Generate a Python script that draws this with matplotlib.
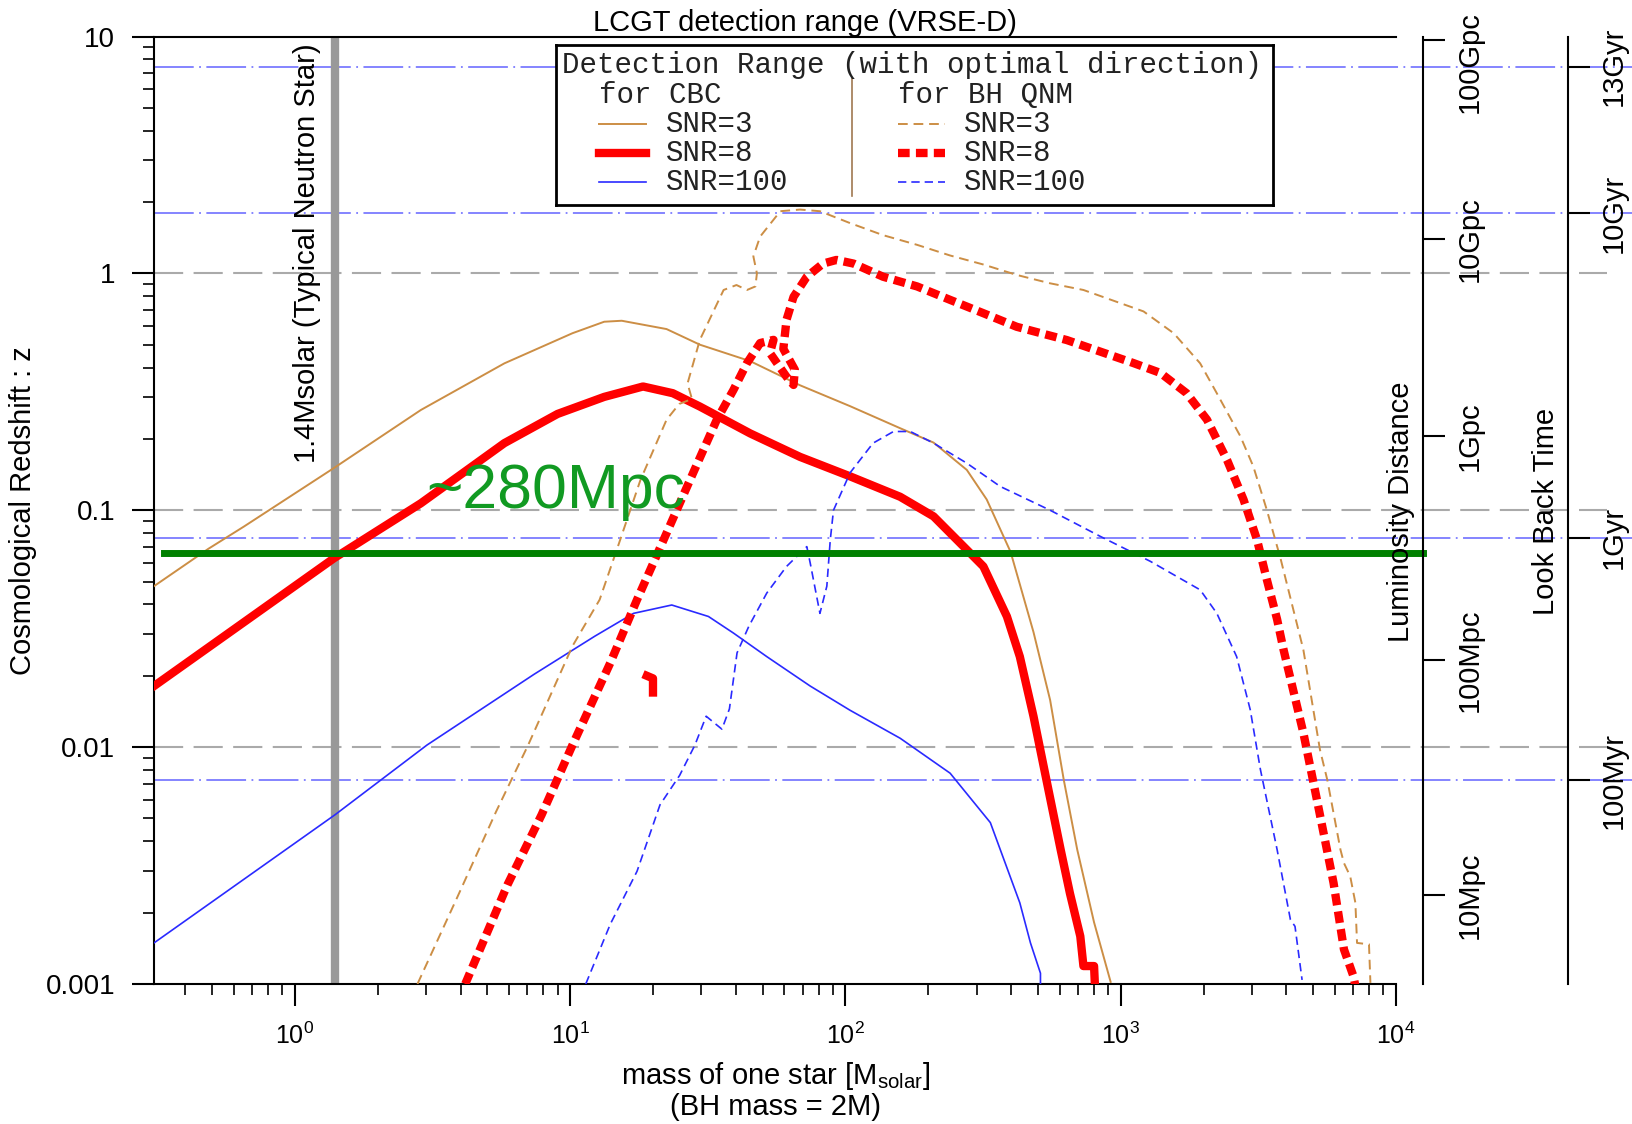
"""LCGT detection range (VRSE-D) plot."""

import matplotlib
matplotlib.use("Agg")
import matplotlib.pyplot as plt
import matplotlib.ticker as ticker
import matplotlib.transforms as transforms

plt.rcParams["font.family"] = "Liberation Sans"
plt.rcParams["mathtext.fontset"] = "custom"
plt.rcParams["mathtext.rm"] = "Liberation Sans"
plt.rcParams["mathtext.it"] = "Liberation Sans:italic"
plt.rcParams["mathtext.default"] = "regular"

# CBC, SNR=3
cbc3_mass = [0.308, 0.485, 0.653, 1.39, 2.87, 5.77, 10.2, 13.3, 15.4, 22.4,
             29.6, 45.1, 68.4, 104, 158, 209, 276, 326, 398, 482, 554, 621,
             695, 800, 919]
cbc3_z = [0.0478, 0.0687, 0.0853, 0.151, 0.265, 0.417, 0.559, 0.625, 0.631,
          0.582, 0.500, 0.426, 0.337, 0.275, 0.222, 0.193, 0.148, 0.111,
          0.0667, 0.0306, 0.0158, 0.00727, 0.00369, 0.00182, 0.00102]

# CBC, SNR=8
cbc8_mass = [0.308, 1.39, 2.87, 5.77, 9.0, 13.3, 18.4, 23.6, 29.6, 45.1, 68.4,
             104, 158, 209, 276, 317, 386, 430, 482, 540, 605, 654, 713, 732,
             800, 806]
cbc8_z = [0.0181, 0.0628, 0.107, 0.192, 0.255, 0.301, 0.333, 0.312, 0.274,
          0.211, 0.168, 0.139, 0.114, 0.0942, 0.0681, 0.0579, 0.0356, 0.0241,
          0.0135, 0.00705, 0.00369, 0.00241, 0.00159, 0.00119, 0.00119,
          0.00098]

# CBC, SNR=100
cbc100_mass = [0.308, 1.40, 3.02, 7.40, 12.3, 17.0, 23.4, 31.8, 39.2, 51.8,
               74.5, 104, 158, 240, 336, 430, 470, 511, 511]
cbc100_z = [0.00149, 0.00518, 0.0102, 0.0203, 0.0294, 0.0367, 0.0398, 0.0356,
            0.0303, 0.0241, 0.0181, 0.0143, 0.0109, 0.00776, 0.0048, 0.0022,
            0.00149, 0.00111, 0.00099]

# BH QNM, SNR=3
qnm3_mass = [2.79, 3.89, 5.38, 7.04, 10.2, 12.8, 15.2, 18.0, 22.4, 24.9, 27.7,
             26.7, 29.6, 36.1, 40.2, 43.9, 47.1, 47.7, 46.3, 49.0, 58.0, 68.4,
             80.8, 104, 137, 182, 240, 317, 419, 554, 732, 1210, 1557, 1943,
             2233, 2721, 3031, 3396, 3802, 4605, 5292, 5627, 6281, 6467, 6815,
             7117, 7216, 7974, 8070]
qnm3_z = [0.001, 0.00232, 0.00533, 0.0102, 0.0267, 0.0419, 0.075, 0.134, 0.241,
          0.281, 0.295, 0.343, 0.524, 0.851, 0.893, 0.851, 0.881, 1.0, 1.18,
          1.43, 1.83, 1.86, 1.83, 1.63, 1.45, 1.32, 1.19, 1.09, 0.985, 0.908,
          0.851, 0.691, 0.559, 0.417, 0.312, 0.205, 0.153, 0.100, 0.0628,
          0.0258, 0.00975, 0.00727, 0.00369, 0.00324, 0.00285, 0.0022, 0.00149,
          0.00147, 0.00101]

# BH QNM, SNR=8
qnm8_mass = [4.16, 5.92, 7.88, 10.2, 14.0, 17.5, 22.4, 28.0, 34.1, 39.2, 43.9,
             49.0, 54.8, 53.2, 61.1, 64.8, 65.5, 59.5, 61.1, 64.8, 72.4, 82.9,
             92.8, 107, 137, 182, 240, 317, 419, 637, 1113, 1393, 1735, 2058,
             2433, 2792, 3127, 3396, 3698, 3902, 4605, 5158, 5929, 6467, 6998,
             7117]
qnm8_z = [0.001, 0.00262, 0.00518, 0.0102, 0.0227, 0.0419, 0.080, 0.144, 0.241,
          0.322, 0.418, 0.508, 0.524, 0.461, 0.366, 0.338, 0.392, 0.480, 0.637,
          0.796, 0.968, 1.10, 1.14, 1.10, 0.968, 0.881, 0.773, 0.679, 0.595,
          0.523, 0.418, 0.380, 0.312, 0.241, 0.163, 0.111, 0.075, 0.0508,
          0.0346, 0.0258, 0.0115, 0.006, 0.00267, 0.0014, 0.00108, 0.00098]
qnm8_spot_mass = [19.0, 20.0, 20.0]
qnm8_spot_z = [0.0200, 0.0195, 0.0170]

# BH QNM, SNR=100
qnm100_mass = [11.4, 14.0, 17.5, 21.2, 25.0, 28.4, 31.2, 35.6, 37.9, 40.4, 44.6,
               51.8, 61.1, 72.4, 74.5, 80.8, 85.6, 88.1, 90.5, 104, 126, 149.5,
               172, 209, 276, 365, 554, 842, 1279, 1944, 2234, 2636, 2953, 3216,
               3698, 4133, 4295, 4557]
qnm100_z = [0.001, 0.00179, 0.00299, 0.0057, 0.0076, 0.0102, 0.0135, 0.0119,
            0.0145, 0.025, 0.0324, 0.0447, 0.0579, 0.0702, 0.0598, 0.0367,
            0.0478, 0.075, 0.100, 0.144, 0.192, 0.215, 0.215, 0.192, 0.158,
            0.126, 0.100, 0.0776, 0.0609, 0.0461, 0.0367, 0.0241, 0.0144,
            0.00804, 0.00369, 0.00187, 0.00175, 0.00104]

neutron_star_mass = 1.4
range_280mpc_z = 0.066

# secondary scales (redshift of each tick)
lum_dist_z = [9.7, 1.40, 0.205, 0.0233, 0.00237]
lum_dist_labels = ["100Gpc", "10Gpc", "1Gpc", "100Mpc", "10Mpc"]
lookback_z = [7.45, 1.79, 0.0765, 0.00725]
lookback_labels = ["13Gyr", "10Gyr", "1Gyr", "100Myr"]
grid_z = [1, 0.1, 0.01]

TAN = "#CC8E45"
RED = "#FF0000"
BLUE = "#2A2AFF"

fig = plt.figure(figsize=(16.33, 11.24), dpi=100)
ax = fig.add_axes([0.0943, 0.1246, 0.7606, 0.8429])
ax.set_xscale("log")
ax.set_yscale("log")
ax.set_xlim(0.308, 1e4)
ax.set_ylim(1e-3, 10)

hline = transforms.blended_transform_factory(ax.transAxes, ax.transData)
for z in grid_z:
    ax.plot([0, 1.17], [z, z], color="#AAAAAA", lw=1.5, dashes=(14, 5),
            transform=hline, clip_on=False, zorder=1)
for z in lookback_z:
    ax.plot([0, 1.19], [z, z], color="#7B7BFF", lw=1.3,
            dashes=(22, 3, 1, 3), transform=hline, clip_on=False,
            zorder=1)

ax.axvline(neutron_star_mass, color="#999999", lw=6, zorder=2)

ax.plot(cbc3_mass, cbc3_z, color=TAN, lw=1.4, zorder=3)
ax.plot(cbc8_mass, cbc8_z, color=RED, lw=6, zorder=3)
ax.plot(cbc100_mass, cbc100_z, color=BLUE, lw=1.2, zorder=3)
ax.plot(qnm3_mass, qnm3_z, color=TAN, lw=1.4, dashes=(5, 3), zorder=3)
ax.plot(qnm8_mass, qnm8_z, color=RED, lw=6, dashes=(1.4, 0.75), zorder=3)
ax.plot(qnm8_spot_mass, qnm8_spot_z, color=RED, lw=6, zorder=3)
ax.plot(qnm100_mass, qnm100_z, color=BLUE, lw=1.2, dashes=(5, 3), zorder=3)

ax.plot([0.0077, 1.0217], [range_280mpc_z, range_280mpc_z], color="#008000",
        lw=5, transform=hline, clip_on=False, zorder=4)
ax.text(3.0, 0.102, "~280Mpc", color="#119A22", fontsize=45, va="baseline",
        zorder=5)

vline = transforms.blended_transform_factory(ax.transData, ax.transAxes)
ax.annotate("1.4Msolar (Typical Neutron Star)", xy=(neutron_star_mass, 1),
            xycoords=vline, xytext=(-10, -5), textcoords="offset points",
            rotation=90, ha="right", va="top", fontsize=21)

ax.spines["right"].set_visible(False)
for side in ["left", "bottom", "top"]:
    ax.spines[side].set_linewidth(1.5)
ax.tick_params(which="major", direction="out", length=16, width=1.5,
               labelsize=20, pad=12)
ax.tick_params(which="minor", direction="out", length=8, width=1.2)
ax.tick_params(axis="x", which="major", labelsize=18, pad=12)
ax.yaxis.set_major_formatter(ticker.FuncFormatter(lambda v, _: f"{v:g}"))
ax.yaxis.set_minor_formatter(ticker.NullFormatter())
ax.xaxis.set_minor_formatter(ticker.NullFormatter())

# luminosity distance and look back time axes
for pos, ticks, labels, lab_x in [(1.0217, lum_dist_z, lum_dist_labels, 1.0596),
                                  (1.1385, lookback_z, lookback_labels, 1.1755)]:
    tw = ax.twinx()
    tw.set_yscale("log")
    tw.set_ylim(1e-3, 10)
    for side in ["left", "top", "bottom"]:
        tw.spines[side].set_visible(False)
    tw.spines["right"].set_position(("axes", pos))
    tw.spines["right"].set_linewidth(1.5)
    tw.set_yticks(ticks)
    tw.set_yticklabels([])
    tw.yaxis.set_minor_locator(ticker.NullLocator())
    tw.tick_params(direction="out", length=16, width=1.5)
    for z, lab in zip(ticks, labels):
        ax.text(lab_x, min(z, 7.8), lab, transform=hline, rotation=90,
                ha="center", va="center", fontsize=21, clip_on=False)

fig.text(0.858, 0.545, "Luminosity Distance", rotation=90, ha="center",
         va="center", fontsize=21)
fig.text(0.9467, 0.545, "Look Back Time", rotation=90, ha="center",
         va="center", fontsize=21)
fig.text(0.014, 0.546, "Cosmological Redshift : z", rotation=90,
         ha="center", va="center", fontsize=21)
fig.text(0.475, 0.0427, r"mass of one star [M$_{solar}$]", ha="center",
         va="center", fontsize=21)
fig.text(0.475, 0.0151, "(BH mass = 2M)", ha="center", va="center",
         fontsize=21)
fig.text(0.493, 0.9795, "LCGT detection range (VRSE-D)", ha="center",
         va="center", fontsize=21)

# legend box
lax = fig.add_axes([0.3405, 0.8176, 0.439, 0.1423])
lax.set_xlim(0, 1)
lax.set_ylim(0, 1)
lax.set_xticks([])
lax.set_yticks([])
for sp in lax.spines.values():
    sp.set_linewidth(2)
mono = dict(family="Liberation Mono", fontsize=21, va="center", color="#222222")
lax.text(0.008, 0.8775, "Detection Range (with optimal direction)", **mono)
lax.text(0.06, 0.689, "for CBC", **mono)
lax.text(0.477, 0.689, "for BH QNM", **mono)
lax.plot([0.413, 0.413], [0.056, 0.794], color="#A07850", lw=1.2)
rows = [("SNR=3", TAN, 1.4), ("SNR=8", RED, 6), ("SNR=100", BLUE, 1.2)]
for (lab, col, lw), y in zip(rows, [0.506, 0.325, 0.144]):
    lax.plot([0.06, 0.125], [y, y], color=col, lw=lw)
    lax.text(0.154, y, lab, **mono)
    dash = (1.4, 0.75) if lw > 3 else (5, 3)
    lax.plot([0.477, 0.5425], [y, y], color=col, lw=lw, dashes=dash)
    lax.text(0.5696, y, lab, **mono)

plt.savefig("out.png", dpi=100)
